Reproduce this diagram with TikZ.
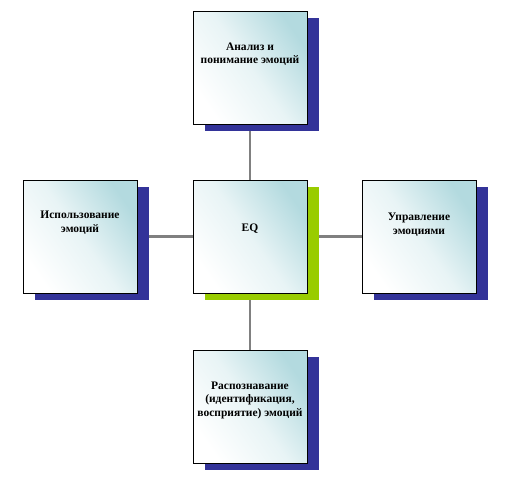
\documentclass[tikz,border=0pt]{standalone}
\usepackage{fontspec}
\setmainfont{Liberation Serif}
\usetikzlibrary{shadows,backgrounds}
\definecolor{tealc}{HTML}{B3DADF}
\definecolor{navyc}{HTML}{333399}
\definecolor{limec}{HTML}{99CC00}
\definecolor{linec}{HTML}{808080}
\tikzset{
  box/.style={draw=black, line width=0.9pt, minimum width=114pt, minimum height=113pt,
    inner sep=0pt, top color=tealc, bottom color=white, middle color=tealc!30!white, shading angle=-55},
  navyshadow/.style={general shadow={fill=navyc, shadow xshift=12pt, shadow yshift=-7pt}},
  limeshadow/.style={general shadow={fill=limec, shadow xshift=12pt, shadow yshift=-7pt}},
  txt/.style={align=center, font=\bfseries\fontsize{11.5}{13.5}\selectfont, inner sep=0pt},
  conn/.style={draw=linec, line width=2.6pt}
}
\begin{document}
\begin{tikzpicture}[x=1pt,y=-1pt]
\useasboundingbox (0,0) rectangle (509,485);
\node[box, navyshadow] (top) at (250,67.5) {};
\node[box, limeshadow] (mid) at (250,236.5) {};
\node[box, navyshadow] (bot) at (250,406.5) {};
\node[box, navyshadow] (lft) at (80,236.5) {};
\node[box, navyshadow] (rgt) at (419,236.5) {};
\begin{pgfonlayer}{background}
\draw[conn] (mid) -- (top);
\draw[conn] (mid) -- (bot);
\draw[conn] (mid) -- (lft);
\draw[conn] (mid) -- (rgt);
\end{pgfonlayer}
\node[txt] (ttop) at ([yshift=13.5pt]top.center) {Анализ и\\понимание эмоций};
\node[txt] (tmid) at ([yshift=7.5pt]mid.center) {EQ};
\node[txt] (tbot) at ([yshift=6.5pt]bot.center) {Распознавание\\(идентификация,\\восприятие) эмоций};
\node[txt] (tlft) at ([yshift=14pt]lft.center) {Использование\\эмоций};
\node[txt] (trgt) at ([yshift=12pt]rgt.center) {Управление\\эмоциями};
\end{tikzpicture}
\end{document}
